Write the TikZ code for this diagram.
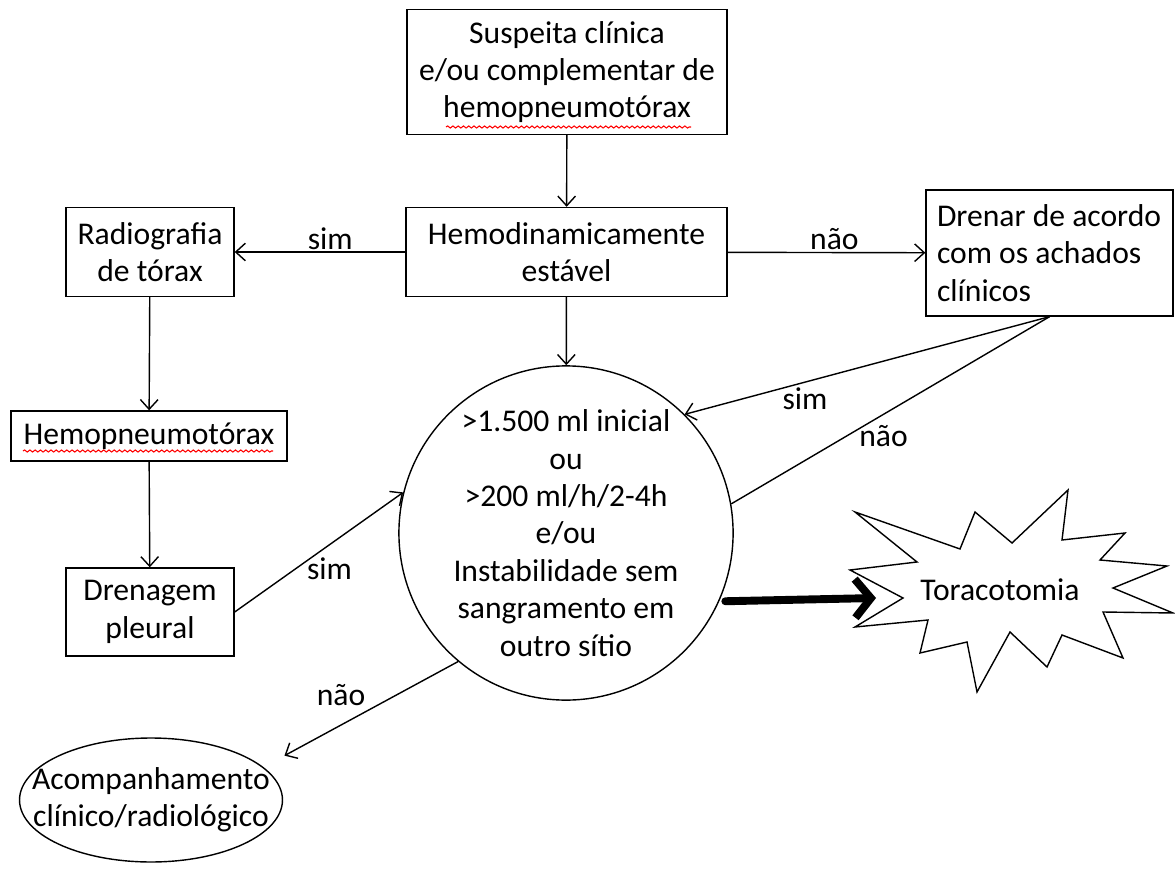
\documentclass[tikz,border=0pt]{standalone}
\usepackage{fontspec}
\setmainfont{Carlito}
\usepackage{tikz}
\usetikzlibrary{shapes.geometric,arrows.meta,decorations.pathmorphing}
\tikzstyle{rec} = [rectangle,draw,line width=0.8pt,inner sep=0pt,align=center]
\tikzstyle{lbl} = [inner sep=1pt]
\tikzstyle{squiggle} = [draw=red,line width=0.6pt,decorate,decoration={snake,amplitude=0.6pt,segment length=3pt}]

\begin{document}
\begin{tikzpicture}
		[
		x=0.02cm,y=-0.02cm,
		font=\fontsize{18}{21.3}\selectfont,
		flow/.style={draw,line width=0.8pt,-{Straight Barb[length=5.5pt,width=10pt]}},
		bigarrow/.style={draw,line width=4.5pt,line cap=round,line join=round,-{Straight Barb[length=9pt,width=22pt]}}
		]
		\useasboundingbox (0,0) rectangle (1175,874);
		% boxes
		\node[rec,minimum width=6.4cm,minimum height=2.5cm](suspeita) at (567,72) {Suspeita clínica\\e/ou complementar de\\hemopneumotórax};
		\node[rec,minimum width=6.42cm,minimum height=1.78cm](estavel) at (566.5,252) {Hemodinamicamente\\estável};
		\node[rec,minimum width=3.36cm,minimum height=1.78cm](radiografia) at (150,252) {Radiografia\\de tórax};
		\node[rec,minimum width=4.94cm,minimum height=2.52cm,align=flush left,text width=4.5cm](drenar) at (1049.5,253) {Drenar de acordo\\com os achados\\clínicos};
		\node[rec,minimum width=5.52cm,minimum height=1.0cm](hemop) at (149,436) {Hemopneumotórax};
		\node[rec,minimum width=3.36cm,minimum height=1.76cm](drenagem) at (150,612) {Drenagem\\pleural};
		\node[circle,draw,line width=0.8pt,minimum size=6.4cm,inner sep=0pt,align=center](criterio) at (566,533) {>1.500 ml inicial\\ou\\>200 ml/h/2-4h\\e/ou\\Instabilidade sem\\sangramento em\\outro sítio};
		\node[ellipse,draw,line width=0.8pt,minimum width=5.26cm,minimum height=2.48cm,inner xsep=-20pt,inner ysep=0pt,align=center](acompanhamento) at (151,800) {Acompanhamento\\clínico/radiológico};
		% starburst
		\draw[line width=0.8pt] (855,512) -- (960,549) -- (975,512) -- (1012,543) -- (1068,490) -- (1062,540)
			-- (1125,533) -- (1100,560) -- (1167,566) -- (1113,588) -- (1173,613) -- (1103,612)
			-- (1123,658) -- (1062,635) -- (1047,667) -- (1010,632) -- (977,692) -- (967,642)
			-- (920,653) -- (928,620) -- (855,627) -- (903,598) -- (850,570) -- (917,562) -- cycle;
		\node(toraco) at (1000,590) {Toracotomia};
		\coordinate (burst) at (876,598);
		% spelling marks
		\draw[squiggle] (446,127) -- (691,127);
		\draw[squiggle] (23,451) -- (273,451);
		% arrows
		\draw[flow] (suspeita) -- (estavel);
		\draw[flow] (estavel) -- node[lbl,pos=0.44,above]{sim} (radiografia);
		\draw[flow] (estavel) -- node[lbl,pos=0.54,above]{não} (drenar);
		\draw[flow] (estavel) -- (criterio);
		\draw[flow] (radiografia) -- (hemop);
		\draw[flow] (hemop) -- (drenagem);
		\draw[flow] (drenagem.east) -- node[lbl,below,xshift=6pt,yshift=-2pt]{sim} (criterio.166);
		\draw[flow] (drenar.south) -- node[lbl,pos=0.67,below,yshift=-2pt]{sim} (criterio.45);
		\draw[line width=0.8pt] (drenar.south) -- node[lbl,pos=0.55,below right,xshift=-10pt,yshift=-2pt]{não} (criterio.10);
		\draw[flow] (criterio.230) -- node[lbl,above left,xshift=-2pt]{não} ([xshift=0.8cm]acompanhamento.north east);
		\draw[bigarrow] (criterio.-24) ++(6,0) -- (burst);
		\end{tikzpicture}
\end{document}
